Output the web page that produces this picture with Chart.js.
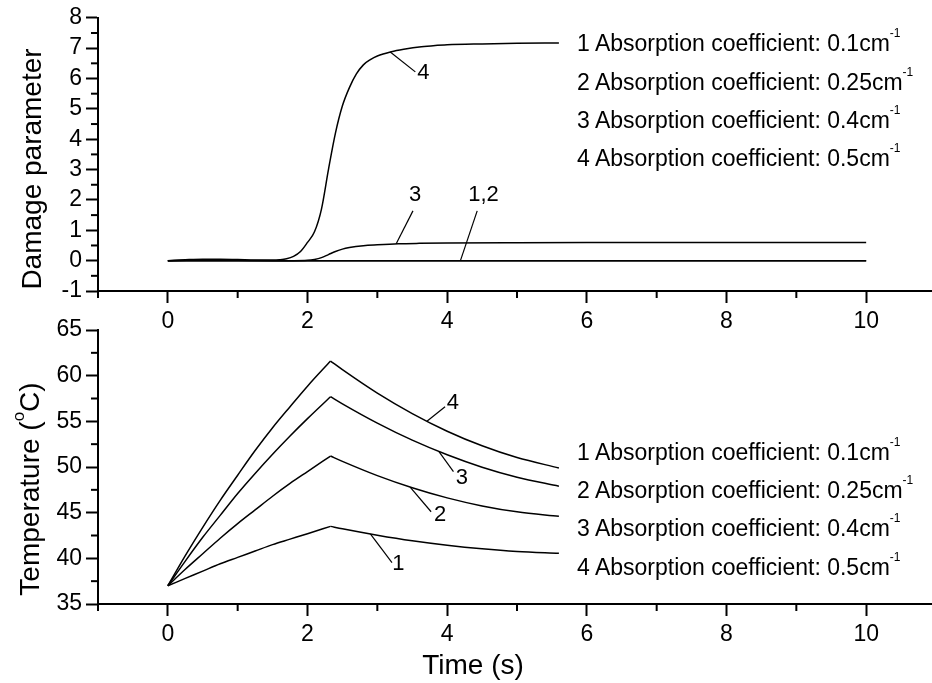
<!DOCTYPE html>
<html>
<head>
<meta charset="utf-8">
<script src="https://cdn.jsdelivr.net/npm/chart.js@4.4.0/dist/chart.umd.min.js"></script>
<style>
  body { margin: 0; background: #fff; }
  #wrap { position: relative; width: 932px; height: 683px; overflow: hidden; font-family: Arial, "Liberation Sans", sans-serif; color: #000; }
  .panel { position: absolute; left: 0; width: 936px; }
  .ytitle { position: absolute; transform: translate(-50%, -50%) rotate(-90deg); white-space: nowrap; font-size: 28px; line-height: 1; }
  .xtitle { position: absolute; transform: translate(-50%, -50%); white-space: nowrap; font-size: 28px; line-height: 1; }
  .leg { position: absolute; left: 577px; font-size: 23px; line-height: 26px; white-space: nowrap; }
  .leg sup { font-size: 12px; line-height: 0; vertical-align: 14px; }
  .ytitle sup { font-size: 17px; line-height: 0; vertical-align: 15px; }
</style>
</head>
<body>
<div id="wrap">
  <div class="panel" style="top:0;height:345px"><canvas id="damageChart"></canvas></div>
  <div class="panel" style="top:310px;height:373px"><canvas id="tempChart"></canvas></div>

  <div class="ytitle" style="left:32px;top:169px">Damage parameter</div>
  <div class="ytitle" style="left:30px;top:489px">Temperature (<sup>o</sup>C)</div>
  <div class="xtitle" style="left:473px;top:665px">Time (s)</div>

  <div class="leg" style="top:30px">1 Absorption coefficient: 0.1cm<sup>-1</sup></div>
  <div class="leg" style="top:69px">2 Absorption coefficient: 0.25cm<sup>-1</sup></div>
  <div class="leg" style="top:107px">3 Absorption coefficient: 0.4cm<sup>-1</sup></div>
  <div class="leg" style="top:145px">4 Absorption coefficient: 0.5cm<sup>-1</sup></div>

  <div class="leg" style="top:439px">1 Absorption coefficient: 0.1cm<sup>-1</sup></div>
  <div class="leg" style="top:477px">2 Absorption coefficient: 0.25cm<sup>-1</sup></div>
  <div class="leg" style="top:515px">3 Absorption coefficient: 0.4cm<sup>-1</sup></div>
  <div class="leg" style="top:554px">4 Absorption coefficient: 0.5cm<sup>-1</sup></div>
</div>

<script>
// top panel: damage parameter
const damageTime12 = [0, 10];
const damage1 = [0, 0];
const damage2 = [0, 0];
const damageTime3 = [0, 0.5, 1.0, 1.5, 1.8, 2.0, 2.1, 2.2, 2.3, 2.4, 2.5, 2.6, 2.8, 3.0, 3.3, 3.6, 4.0, 5.0, 6.0, 8.0, 10.0];
const damage3 = [0, 0.02, 0.01, 0.0, 0.0, 0.01, 0.04, 0.1, 0.2, 0.3, 0.38, 0.43, 0.49, 0.52, 0.555, 0.57, 0.58, 0.59, 0.595, 0.6, 0.6];
const damageTime4 = [0, 0.25, 0.5, 0.75, 1.0, 1.25, 1.5, 1.6, 1.7, 1.8, 1.9, 2.0, 2.1, 2.2, 2.3, 2.4, 2.5, 2.6, 2.7, 2.8, 2.9, 3.0, 3.2, 3.4, 3.6, 3.8, 4.0, 4.5, 5.0, 5.6];
const damage4 = [0, 0.03, 0.05, 0.05, 0.04, 0.02, 0.02, 0.03, 0.06, 0.14, 0.3, 0.6, 0.95, 1.7, 3.0, 4.2, 5.1, 5.7, 6.15, 6.45, 6.62, 6.74, 6.88, 6.97, 7.04, 7.08, 7.11, 7.14, 7.16, 7.17];

// bottom panel: temperature (laser switched off at the peak, t = 2.33 s)
const tempTime = [0, 0.25, 0.5, 0.75, 1.0, 1.25, 1.5, 1.75, 2.0, 2.33, 2.5, 3.0, 3.5, 4.0, 4.5, 5.0, 5.6];
const temp1 = [37, 37.8, 38.6, 39.4, 40.1, 40.8, 41.5, 42.1, 42.7, 43.5, 43.23, 42.53, 41.92, 41.43, 41.04, 40.75, 40.55];
const temp2 = [37, 38.8, 40.5, 42.2, 43.8, 45.3, 46.8, 48.2, 49.5, 51.2, 50.62, 49.06, 47.73, 46.62, 45.74, 45.09, 44.6];
const temp3 = [37, 39.7, 42.3, 44.7, 47.1, 49.3, 51.4, 53.4, 55.3, 57.7, 56.92, 54.81, 52.94, 51.34, 49.98, 48.88, 47.9];
const temp4 = [37, 40.3, 43.4, 46.35, 49.1, 51.8, 54.3, 56.6, 58.85, 61.6, 60.66, 58.09, 55.85, 53.92, 52.32, 51.03, 49.9];
const peakIndex = 9;

const xTicks = [0, 2, 4, 6, 8, 10];

const fontFamily = 'Arial, "Liberation Sans", sans-serif';

function pts(xs, ys) {
    return xs.map((x, i) => ({ x: x, y: ys[i] }));
}

// minor ticks between the major ones, drawn outside the axes
const minorTicks = {
    id: 'minorTicks',
    afterDraw(chart, args, opts) {
        const { ctx, chartArea, scales } = chart;
        ctx.save();
        ctx.strokeStyle = '#000';
        ctx.lineWidth = 2;
        const isMajor = (scale, v) => scale.ticks.some(t => Math.abs(t.value - v) < 1e-6);
        for (let v = scales.x.min; v <= scales.x.max + 1e-9; v += opts.x) {
            if (isMajor(scales.x, v)) continue;
            const px = scales.x.getPixelForValue(v);
            ctx.beginPath();
            ctx.moveTo(px, chartArea.bottom);
            ctx.lineTo(px, chartArea.bottom + 7);
            ctx.stroke();
        }
        for (let v = scales.y.min; v <= scales.y.max + 1e-9; v += opts.y) {
            if (isMajor(scales.y, v)) continue;
            const py = scales.y.getPixelForValue(v);
            ctx.beginPath();
            ctx.moveTo(chartArea.left, py);
            ctx.lineTo(chartArea.left - 7, py);
            ctx.stroke();
        }
        ctx.restore();
    }
};

// curve numbers with their leader lines
const curveLabels = {
    id: 'curveLabels',
    afterDatasetsDraw(chart, args, opts) {
        const { ctx, scales: { x, y } } = chart;
        ctx.save();
        ctx.strokeStyle = '#000';
        ctx.fillStyle = '#000';
        ctx.lineWidth = 1.2;
        ctx.font = '22px ' + fontFamily;
        ctx.textAlign = 'center';
        ctx.textBaseline = 'middle';
        opts.items.forEach(it => {
            ctx.beginPath();
            ctx.moveTo(x.getPixelForValue(it.from[0]), y.getPixelForValue(it.from[1]));
            ctx.lineTo(x.getPixelForValue(it.to[0]), y.getPixelForValue(it.to[1]));
            ctx.stroke();
            ctx.fillText(it.text, x.getPixelForValue(it.at[0]), y.getPixelForValue(it.at[1]));
        });
        ctx.restore();
    }
};

function xAxis(height) {
    return {
        type: 'linear',
        min: -1,
        max: 11,
        afterBuildTicks: s => { s.ticks = xTicks.map(v => ({ value: v })); },
        ticks: { font: { size: 23, family: fontFamily }, color: '#000', padding: 5, maxRotation: 0, autoSkip: false },
        grid: { drawOnChartArea: false, tickLength: 12, tickWidth: 2, tickColor: '#000' },
        border: { color: '#000', width: 2 },
        afterFit: s => { s.height = height; }
    };
}

function yAxis(min, max, step) {
    return {
        min: min,
        max: max,
        ticks: { stepSize: step, font: { size: 23, family: fontFamily }, color: '#000', padding: 4, autoSkip: false },
        grid: { drawOnChartArea: false, tickLength: 12, tickWidth: 2, tickColor: '#000' },
        border: { color: '#000', width: 2 },
        afterFit: s => { s.width = 98; }
    };
}

function line(label, data, smooth) {
    return {
        label: label,
        data: data,
        borderColor: '#000',
        borderWidth: 1.5,
        pointRadius: 0,
        fill: false,
        cubicInterpolationMode: smooth ? 'monotone' : 'default',
        tension: smooth ? 0.4 : 0
    };
}

// heating and cooling parts drawn separately so the peak stays sharp
function tempLines(label, temps) {
    return [
        line(label, pts(tempTime.slice(0, peakIndex + 1), temps.slice(0, peakIndex + 1)), true),
        line(label, pts(tempTime.slice(peakIndex), temps.slice(peakIndex)), true)
    ];
}

new Chart(document.getElementById('damageChart'), {
    type: 'line',
    data: {
        datasets: [
            line('1', pts(damageTime12, damage1), false),
            line('2', pts(damageTime12, damage2), false),
            line('3', pts(damageTime3, damage3), true),
            line('4', pts(damageTime4, damage4), true)
        ]
    },
    options: {
        responsive: true,
        maintainAspectRatio: false,
        animation: false,
        layout: { padding: { top: 16, left: 0, right: 0, bottom: 0 } },
        plugins: {
            legend: { display: false },
            tooltip: { enabled: false },
            minorTicks: { x: 1, y: 0.5 },
            curveLabels: {
                items: [
                    { text: '4', from: [3.185, 6.874], to: [3.544, 6.219], at: [3.66, 6.2] },
                    { text: '3', from: [3.27, 0.556], to: [3.51, 1.64], at: [3.54, 2.18] },
                    { text: '1,2', from: [4.19, 0.0], to: [4.43, 1.64], at: [4.52, 2.18] }
                ]
            }
        },
        scales: { x: xAxis(54), y: yAxis(-1, 8, 1) }
    },
    plugins: [minorTicks, curveLabels]
});

new Chart(document.getElementById('tempChart'), {
    type: 'line',
    data: {
        datasets: [
            ...tempLines('1', temp1),
            ...tempLines('2', temp2),
            ...tempLines('3', temp3),
            ...tempLines('4', temp4)
        ]
    },
    options: {
        responsive: true,
        maintainAspectRatio: false,
        animation: false,
        layout: { padding: { top: 20, left: 0, right: 0, bottom: 0 } },
        plugins: {
            legend: { display: false },
            tooltip: { enabled: false },
            minorTicks: { x: 1, y: 2.5 },
            curveLabels: {
                items: [
                    { text: '4', from: [3.71, 55.0], to: [3.97, 56.6], at: [4.08, 57.06] },
                    { text: '3', from: [3.88, 51.7], to: [4.09, 49.49], at: [4.21, 48.76] },
                    { text: '2', from: [3.47, 47.8], to: [3.77, 45.1], at: [3.90, 44.74] },
                    { text: '1', from: [2.90, 42.67], to: [3.21, 39.52], at: [3.30, 39.38] }
                ]
            }
        },
        scales: { x: xAxis(79), y: yAxis(35, 65, 5) }
    },
    plugins: [minorTicks, curveLabels]
});
</script>
</body>
</html>
